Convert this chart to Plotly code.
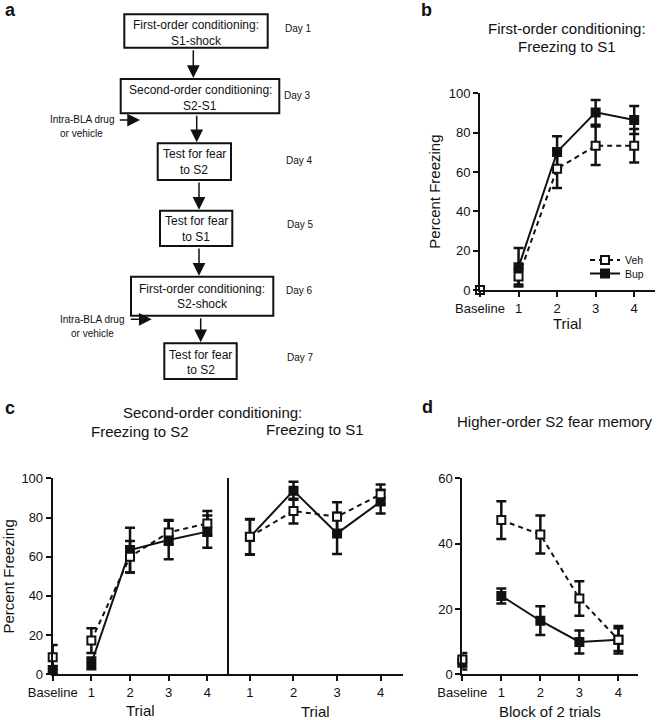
import plotly.graph_objects as go

# ---------------- data ----------------
trial_labels = ["Baseline", "1", "2", "3", "4"]
trial_x = [0, 1, 2, 3, 4]
s1_trial_labels = ["1", "2", "3", "4"]
s1_trial_x = [1, 2, 3, 4]

# b: First-order conditioning, freezing to S1
b_veh = [0.0, 6.8, 61.7, 73.3, 73.3]
b_veh_err = [0.0, 4.0, 9.8, 9.8, 8.5]
b_bup = [0.0, 11.6, 70.2, 90.3, 86.4]
b_bup_err = [0.0, 9.8, 8.0, 6.3, 7.1]

# c: Second-order conditioning, freezing to S2
c_s2_veh = [8.7, 17.2, 60.0, 72.4, 77.0]
c_s2_veh_err = [6.3, 6.3, 8.0, 6.3, 6.3]
c_s2_bup = [2.2, 5.6, 63.4, 68.5, 72.8]
c_s2_bup_err = [2.0, 3.0, 11.4, 9.8, 8.2]

# c: Second-order conditioning, freezing to S1
c_s1_veh = [70.2, 83.3, 80.4, 91.8]
c_s1_veh_err = [9.0, 6.3, 7.4, 5.1]
c_s1_bup = [70.0, 93.7, 71.9, 88.1]
c_s1_bup_err = [9.0, 4.6, 10.5, 6.0]

# d: Higher-order S2 fear memory
d_veh = [4.5, 47.2, 42.8, 23.2, 10.6]
d_veh_err = [2.0, 5.8, 5.8, 5.3, 4.2]
d_bup = [3.5, 24.0, 16.4, 9.9, 10.6]
d_bup_err = [2.0, 2.3, 4.4, 3.5, 3.5]

# ---------------- styling ----------------
W, H = 658, 720
FONT = "Liberation Sans, Arial, Helvetica, sans-serif"
INK = "#111111"


def px(x):
    return x / W


def py(y):
    return 1 - y / H


fig = go.Figure()


def add_series(x, y, err, xa, ya, filled, name, legend=False, connect=True, legend_id="legend"):
    fig.add_trace(go.Scatter(
        x=x, y=y, xaxis=xa, yaxis=ya,
        mode="lines+markers" if connect else "markers",
        line=dict(color=INK, width=2, dash="solid" if filled else "5px,4px"),
        marker=dict(symbol="square", size=8,
                    color=INK if filled else "white",
                    line=dict(color=INK, width=2)),
        error_y=dict(type="data", array=err, visible=True, color=INK,
                     thickness=2.5, width=5),
        cliponaxis=False, showlegend=legend, name=name, legend=legend_id,
    ))


def add_panel(xs, veh, veh_err, bup, bup_err, xa, ya, baseline, legend=False):
    if baseline:
        add_series(xs[:1], bup[:1], bup_err[:1], xa, ya, True, "Bup", connect=False)
        add_series(xs[1:], bup[1:], bup_err[1:], xa, ya, True, "Bup", legend=legend,
                   legend_id="legend2")
        add_series(xs[:1], veh[:1], veh_err[:1], xa, ya, False, "Veh", connect=False)
        add_series(xs[1:], veh[1:], veh_err[1:], xa, ya, False, "Veh", legend=legend,
                   legend_id="legend")
    else:
        add_series(xs, bup, bup_err, xa, ya, True, "Bup")
        add_series(xs, veh, veh_err, xa, ya, False, "Veh")


add_panel(trial_x, b_veh, b_veh_err, b_bup, b_bup_err, "x", "y", True, legend=True)
add_panel(trial_x, c_s2_veh, c_s2_veh_err, c_s2_bup, c_s2_bup_err, "x2", "y2", True)
add_panel(s1_trial_x, c_s1_veh, c_s1_veh_err, c_s1_bup, c_s1_bup_err, "x3", "y3", False)
add_panel(trial_x, d_veh, d_veh_err, d_bup, d_bup_err, "x4", "y4", True)

axis_common = dict(
    showline=True, linecolor=INK, linewidth=2, ticks="outside", tickcolor=INK,
    tickwidth=2, ticklen=5, showgrid=False, zeroline=False, fixedrange=True,
    tickfont=dict(family=FONT, size=13, color=INK),
)

legend_common = dict(xanchor="left", yanchor="middle",
                     font=dict(family=FONT, size=10.5, color=INK),
                     bgcolor="rgba(0,0,0,0)", itemwidth=30, tracegroupgap=0)

fig.update_layout(
    width=W, height=H, margin=dict(l=0, r=0, t=0, b=0, autoexpand=False),
    paper_bgcolor="white", plot_bgcolor="white",
    font=dict(family=FONT, color=INK),
    xaxis=dict(axis_common, domain=[px(480), px(655)], range=[0, 4.54], anchor="y",
               tickvals=trial_x, ticktext=trial_labels),
    yaxis=dict(axis_common, domain=[py(290), py(93.3)], range=[0, 100], dtick=20, anchor="x"),
    xaxis2=dict(axis_common, domain=[px(52.7), px(229)], range=[0, 4.56], anchor="y2",
                tickvals=trial_x, ticktext=trial_labels),
    yaxis2=dict(axis_common, domain=[py(674.3), py(478.3)], range=[0, 100], dtick=20, anchor="x2"),
    xaxis3=dict(axis_common, domain=[px(229), px(403.3)], range=[0.52, 4.52], anchor="y3",
                tickvals=s1_trial_x, ticktext=s1_trial_labels),
    yaxis3=dict(axis_common, domain=[py(674.3), py(478.3)], range=[0, 100], anchor="x3",
                ticks="", showticklabels=False),
    xaxis4=dict(axis_common, domain=[px(462.3), px(638.3)], range=[0, 4.51], anchor="y4",
                tickvals=trial_x, ticktext=trial_labels),
    yaxis4=dict(axis_common, domain=[py(674.3), py(478.3)], range=[0, 60], dtick=20, anchor="x4"),
    legend=dict(legend_common, x=px(585), y=py(260)),
    legend2=dict(legend_common, x=px(585), y=py(273.5)),
    showlegend=True,
)

annotations = []


def txt(x, y, s, size, bold=False, xanchor="center", angle=0):
    annotations.append(dict(
        x=px(x), y=py(y), xref="paper", yref="paper", text=f"<b>{s}</b>" if bold else s,
        showarrow=False, xanchor=xanchor, yanchor="middle", textangle=angle,
        font=dict(family=FONT, size=size, color=INK),
    ))


def arrow(x0, y0, x1, y1):
    annotations.append(dict(
        x=px(x1), y=py(y1), xref="paper", yref="paper", ax=x0 - x1, ay=y0 - y1,
        axref="pixel", ayref="pixel", text="", showarrow=True, arrowhead=2,
        arrowsize=1.7, arrowwidth=1.5, arrowcolor=INK, standoff=0,
    ))


# panel letters
txt(3, 10, "a", 18, bold=True, xanchor="left")
txt(419, 10, "b", 18, bold=True, xanchor="left")
txt(3, 408, "c", 18, bold=True, xanchor="left")
txt(420, 407, "d", 18, bold=True, xanchor="left")

# ---- panel a: flow chart ----
boxes = [(124.3, 14.3, 267.7, 47.7), (120.7, 79, 279.3, 113.3), (157.7, 143.3, 231, 180),
         (160, 210.7, 232.3, 246), (131, 276.7, 273.3, 315.7), (164.3, 343.3, 236.7, 379)]
box_text = [
    (196, 25, "First-order conditioning:"), (196, 40.5, "S1-shock"),
    (200, 90, "Second-order conditioning:"), (200, 106, "S2-S1"),
    (194.3, 154, "Test for fear"), (194.3, 170.5, "to S2"),
    (196.2, 221, "Test for fear"), (196.2, 237, "to S1"),
    (202, 288.5, "First-order conditioning:"), (202, 304, "S2-shock"),
    (200.5, 354.5, "Test for fear"), (200.5, 370.5, "to S2"),
]
days = [(283, 28.3, "Day 1"), (282, 96, "Day 3"), (283.5, 160, "Day 4"),
        (284.5, 224.3, "Day 5"), (283.5, 290, "Day 6"), (285, 357.7, "Day 7")]

shapes = []
for x0, y0, x1, y1 in boxes:
    shapes.append(dict(type="rect", xref="paper", yref="paper", x0=px(x0), x1=px(x1),
                       y0=py(y1), y1=py(y0), line=dict(color=INK, width=2),
                       fillcolor="rgba(0,0,0,0)"))
for x, y, s in box_text:
    txt(x, y, s, 12)
for x, y, s in days:
    txt(x, y, s, 10, xanchor="left")

arrow(193.3, 48.7, 193.3, 78)
arrow(196.7, 114.3, 196.7, 142.3)
arrow(199, 181, 199, 209.7)
arrow(199, 247, 199, 275.7)
arrow(200.7, 316.7, 200.7, 342.3)
arrow(118.3, 120, 140, 120)
arrow(129.3, 319.3, 151.7, 319.3)
txt(82.2, 120, "Intra-BLA drug", 10)
txt(81.7, 133.5, "or vehicle", 10)
txt(92.2, 319.3, "Intra-BLA drug", 10)
txt(92.2, 333.5, "or vehicle", 10)

# ---- titles ----
txt(566.7, 28.3, "First-order conditioning:", 15)
txt(566.7, 46.7, "Freezing to S1", 15)
txt(213, 412.7, "Second-order conditioning:", 15)
txt(140, 431, "Freezing to S2", 15)
txt(315, 429.3, "Freezing to S1", 15)
txt(555, 421.7, "Higher-order S2 fear memory", 15)

# ---- axis titles ----
txt(435, 191.7, "Percent Freezing", 15, angle=-90)
txt(567.7, 323.3, "Trial", 15)
txt(8, 576.5, "Percent Freezing", 15, angle=-90)
txt(140, 710, "Trial", 15)
txt(315, 711.7, "Trial", 15)
txt(550, 711.7, "Block of 2 trials", 15)

fig.update_layout(annotations=annotations, shapes=shapes)

fig.write_html(
    "out.html",
    config={"displayModeBar": False},
    post_script="document.body.style.margin='0';document.body.style.padding='0';"
                "document.documentElement.style.overflow='hidden';",
)
